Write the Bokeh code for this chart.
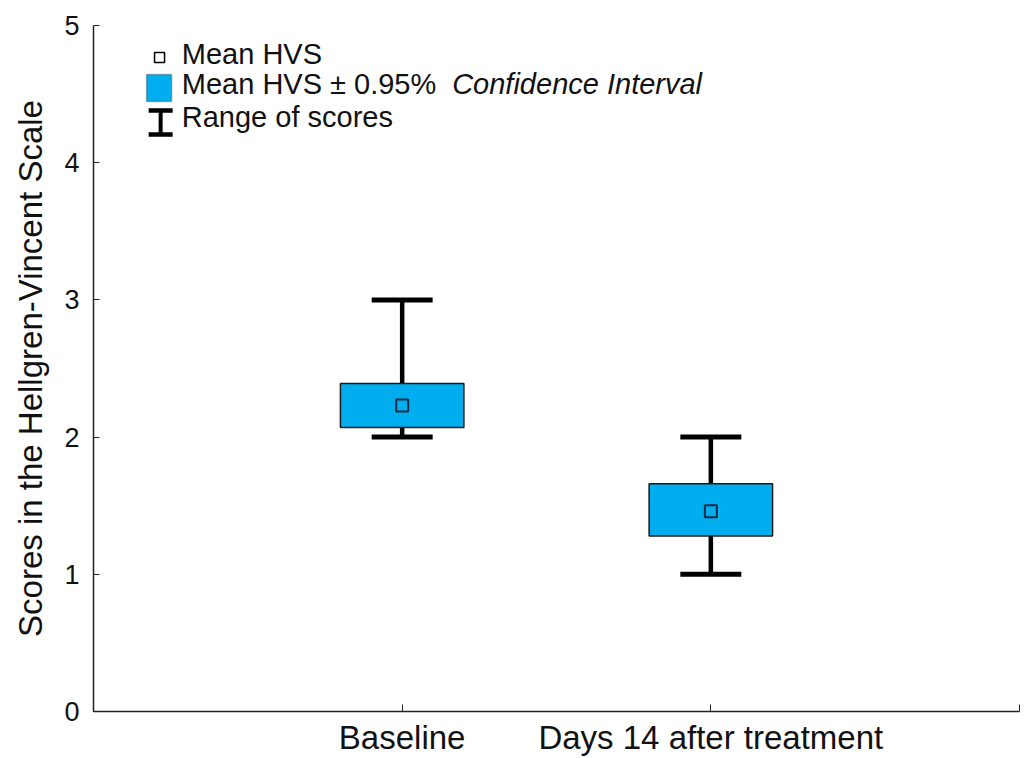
from bokeh.plotting import figure
from bokeh.models import (ColumnDataSource, Whisker, TeeHead, FixedTicker, Range1d,
                          Label, BoxAnnotation)
from bokeh.embed import file_html
from bokeh.resources import INLINE

# ---- data ----
categories = ["Baseline", "Days 14 after treatment"]
cat_pos = [1, 2]
mean_hvs = [2.23, 1.46]
ci_low = [2.07, 1.28]
ci_high = [2.39, 1.66]
range_min = [2.0, 1.0]
range_max = [3.0, 2.0]
y_ticks = [0, 1, 2, 3, 4, 5]

FONT = "Liberation Sans"
BOX_COLOR = "#00AEEF"

src = ColumnDataSource(dict(x=cat_pos, mean=mean_hvs, lo=ci_low, hi=ci_high,
                            rmin=range_min, rmax=range_max))

p = figure(width=1027, height=758, output_backend="svg", toolbar_location=None,
           x_range=Range1d(0, 3), y_range=Range1d(0, 5),
           min_border_left=93, min_border_right=8, min_border_top=25, min_border_bottom=47)
p.outline_line_color = None
p.xgrid.visible = False
p.ygrid.visible = False
p.background_fill_color = "white"
p.border_fill_color = "white"

# range whiskers
w = Whisker(source=src, base="x", lower="rmin", upper="rmax",
            line_width=4.5, line_color="black",
            upper_head=TeeHead(size=61, line_width=5, line_color="black"),
            lower_head=TeeHead(size=61, line_width=5, line_color="black"))
p.add_layout(w)

# CI boxes
p.vbar(x="x", width=0.4, bottom="lo", top="hi", source=src,
       fill_color=BOX_COLOR, line_color="#1b1b1b", line_width=1.5)

# mean markers
p.scatter(x="x", y="mean", source=src, marker="square", size=12,
          fill_alpha=0, line_color="#0d2b45", line_width=2)

# axes
xa = p.xaxis[0]
xa.ticker = FixedTicker(ticks=[0] + cat_pos + [3])
xa.major_label_overrides = {0: "", 1: categories[0], 2: categories[1], 3: ""}
xa.major_label_text_font = FONT
xa.major_label_text_font_size = "33px"
xa.major_label_text_color = "#111111"
xa.major_label_standoff = 7
xa.major_tick_in = 7
xa.major_tick_out = 0
xa.minor_tick_in = 0
xa.minor_tick_out = 0
xa.axis_line_width = 1.5
xa.axis_line_color = "#222222"
xa.major_tick_line_color = "#222222"

ya = p.yaxis[0]
ya.ticker = FixedTicker(ticks=y_ticks)
ya.major_label_text_font = FONT
ya.major_label_text_font_size = "27px"
ya.major_label_text_color = "#111111"
ya.major_label_standoff = 14
ya.major_tick_in = 6
ya.major_tick_out = 0
ya.minor_tick_in = 0
ya.minor_tick_out = 0
ya.axis_line_width = 1.5
ya.axis_line_color = "#222222"
ya.major_tick_line_color = "#222222"
ya.axis_label = "Scores in the Hellgren-Vincent Scale"
ya.axis_label_text_font = FONT
ya.axis_label_text_font_size = "33px"
ya.axis_label_text_font_style = "normal"
ya.axis_label_text_color = "#111111"
ya.axis_label_standoff = 12

# ---- legend (drawn manually) ----
leg_src = ColumnDataSource(dict(x=[0.214], y=[4.767]))
p.scatter(x="x", y="y", source=leg_src, marker="square", size=10,
          fill_color="white", line_color="black", line_width=1.5)
p.add_layout(BoxAnnotation(left=0.172, right=0.253, bottom=4.446, top=4.643,
                           fill_color=BOX_COLOR, fill_alpha=1.0,
                           line_color="#1b1b1b", line_width=1.5))
bar_src = ColumnDataSource(dict(base=[0.2175], lower=[4.205], upper=[4.38]))
p.add_layout(Whisker(source=bar_src, base="base", lower="lower", upper="upper",
                     line_width=4, line_color="black", level="annotation",
                     upper_head=TeeHead(size=24, line_width=4.5, line_color="black"),
                     lower_head=TeeHead(size=24, line_width=4.5, line_color="black")))

def leg_label(x, y, text, style="normal"):
    p.add_layout(Label(x=x, y=y, text=text, text_font=FONT, text_font_size="29px",
                       text_font_style=style, text_color="#111111",
                       text_baseline="middle", text_align="left"))

leg_label(0.286, 4.79, "Mean HVS")
leg_label(0.286, 4.57, "Mean HVS ± 0.95%")
leg_label(1.162, 4.57, "Confidence Interval", "italic")
leg_label(0.286, 4.33, "Range of scores")

open("out.html", "w").write(file_html(p, INLINE))
